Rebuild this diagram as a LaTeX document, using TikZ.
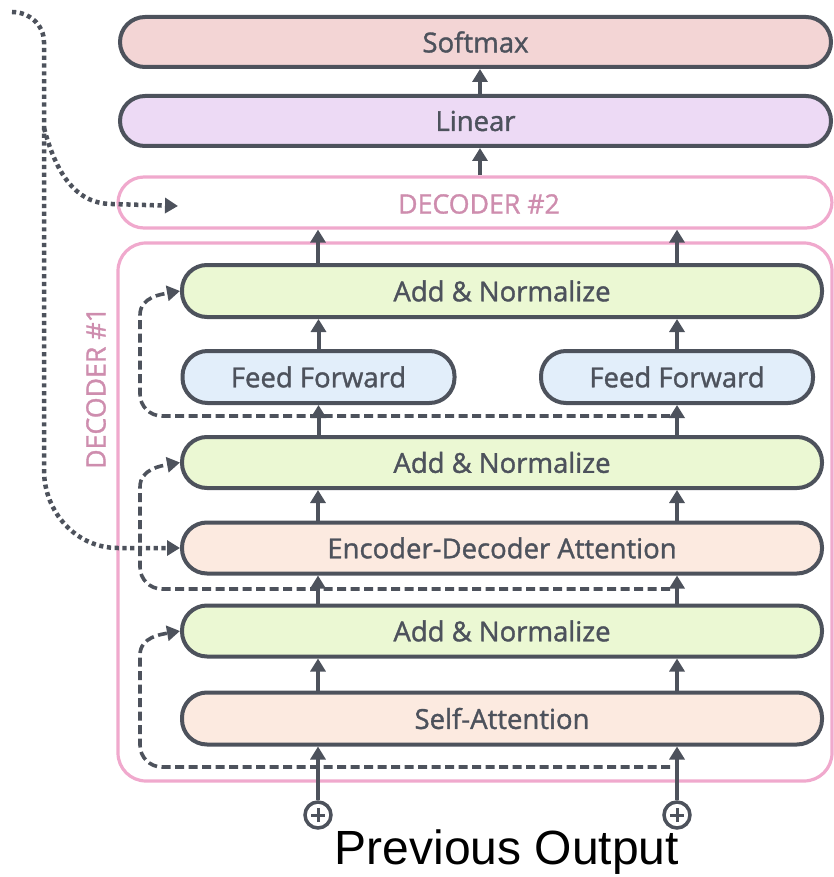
\documentclass[tikz,border=0pt]{standalone}
\usepackage{fontspec}
\setmainfont{Open Sans}
\newfontfamily\boxfont{Open Sans}[BoldFont={Open Sans}, BoldFeatures={FakeBold=1.3}]
\newfontfamily\prevfont{Liberation Sans}
\usetikzlibrary{arrows.meta}
\definecolor{ink}{HTML}{4D525C}
\definecolor{pinkline}{HTML}{F0A9CD}
\definecolor{pinktext}{HTML}{CE8DAE}
\definecolor{csoft}{HTML}{F3D5D5}
\definecolor{clin}{HTML}{EDDAF5}
\definecolor{cgreen}{HTML}{EBF8D3}
\definecolor{cff}{HTML}{E2EEFA}
\definecolor{catt}{HTML}{FCEAE0}
\begin{document}
\begin{tikzpicture}[x=1pt,y=1pt,
 box/.style={draw=ink, line width=4pt, rounded corners=25pt, inner sep=0pt, text=ink,
   font=\boxfont\bfseries\fontsize{27.5}{30}\selectfont},
 frame/.style={draw=pinkline, line width=3.2pt, rounded corners=26pt, inner sep=0pt},
 lbl/.style={text=pinktext, font=\boxfont\bfseries\fontsize{26.7}{30}\selectfont, inner sep=0pt},
 arr/.style={draw=ink, line width=4pt, -{Triangle[width=15pt,length=13pt]}},
 res/.style={draw=ink, line width=3.6pt, dash pattern=on 9pt off 4.5pt, -{Triangle[width=15pt,length=13pt]}},
 dots/.style={draw=ink, line width=4.5pt, dash pattern=on 4.2pt off 3.6pt, -{Triangle[width=15pt,length=13pt]}},
]
\useasboundingbox (0,0) rectangle (834,-877);

% frames
\node[frame, minimum width=714pt, minimum height=51pt] (dec2) at (475,-202.5) {};
\node[lbl] (dec2l) at (479,-204) {DECODER \#2};
\node[frame, minimum width=714pt, minimum height=538pt, rounded corners=28pt] (dec1) at (475,-512) {};
\node[lbl, rotate=90] (dec1l) at (96,-388) {DECODER \#1};

% boxes
\node[box, fill=csoft, minimum width=711pt, minimum height=50pt] (soft) at (475.5,-42) {Softmax};
\node[box, fill=clin, minimum width=711pt, minimum height=50pt] (lin) at (475.5,-121) {Linear};
\node[box, fill=cgreen, minimum width=640pt, minimum height=52pt] (an3) at (502,-291) {Add \& Normalize};
\node[box, fill=cff, minimum width=272pt, minimum height=52pt] (ff1) at (318.5,-377) {Feed Forward};
\node[box, fill=cff, minimum width=272pt, minimum height=52pt] (ff2) at (677,-377) {Feed Forward};
\node[box, fill=cgreen, minimum width=640pt, minimum height=51pt] (an2) at (502,-462.5) {Add \& Normalize};
\node[box, fill=catt, minimum width=640pt, minimum height=51pt] (eda) at (502,-548) {Encoder-Decoder Attention};
\node[box, fill=cgreen, minimum width=640pt, minimum height=51pt] (an1) at (502,-631) {Add \& Normalize};
\node[box, fill=catt, minimum width=640pt, minimum height=52pt] (sa) at (502,-718.5) {Self-Attention};

% plus circles
\node[circle, draw=ink, line width=3.5pt, fill=white, minimum size=26pt, inner sep=0pt] (p1) at (318,-815) {};
\node[circle, draw=ink, line width=3.5pt, fill=white, minimum size=26pt, inner sep=0pt] (p2) at (677,-815) {};
\foreach \p in {p1,p2}{
  \draw[ink, line width=3pt] ([xshift=-7pt]\p.center) -- ([xshift=7pt]\p.center);
  \draw[ink, line width=3pt] ([yshift=-7pt]\p.center) -- ([yshift=7pt]\p.center);
}
\node[font=\prevfont\fontsize{48}{52}\selectfont, text=black, inner sep=0pt] (prev) at (507,-852) {Previous Output};

% vertical arrows
\coordinate (cL) at (318,0);
\coordinate (cR) at (677,0);
\coordinate (cM) at (480,0);
\draw[arr] (p1) -- (p1 |- sa.south);
\draw[arr] (p2) -- (p2 |- sa.south);
\foreach \a/\b in {sa/an1, an1/eda, eda/an2, an3/dec2}{
  \draw[arr] (\a.north -| cL) -- (\b.south -| cL);
  \draw[arr] (\a.north -| cR) -- (\b.south -| cR);
}
\draw[arr] (an2.north -| ff1) -- (ff1.south);
\draw[arr] (an2.north -| ff2) -- (ff2.south);
\draw[arr] (ff1.north) -- (ff1.north |- an3.south);
\draw[arr] (ff2.north) -- (ff2.north |- an3.south);
\draw[arr] (dec2.north -| cM) -- (lin.south -| cM);
\draw[arr] (lin.north -| cM) -- (soft.south -| cM);

% residual connections
\coordinate (r1) at (670,-767);
\coordinate (r2) at (670,-589);
\coordinate (r3) at (670,-416);
\draw[res] (r1) -- (162,-767) to[out=180,in=-90] (140,-745) -- (140,-655) to[out=90,in=190] (an1.west);
\draw[res] (r2) -- (162,-589) to[out=180,in=-90] (140,-567) -- (140,-487) to[out=90,in=190] (an2.west);
\draw[res] (r3) -- (162,-416) to[out=180,in=-90] (140,-394) -- (140,-315) to[out=90,in=190] (an3.west);

% encoder output (dotted)
\coordinate (d0) at (12,-12);
\coordinate (db) at (44,-128);
\coordinate (d2) at (178,-206);
\draw[dots] (d0) to[out=0,in=90] (44,-42) -- (44,-470) to[out=-90,in=180] (118,-548) -- (eda.west);
\draw[dots] (db) to[out=-75,in=180] (112,-204) -- (d2);
\end{tikzpicture}
\end{document}
